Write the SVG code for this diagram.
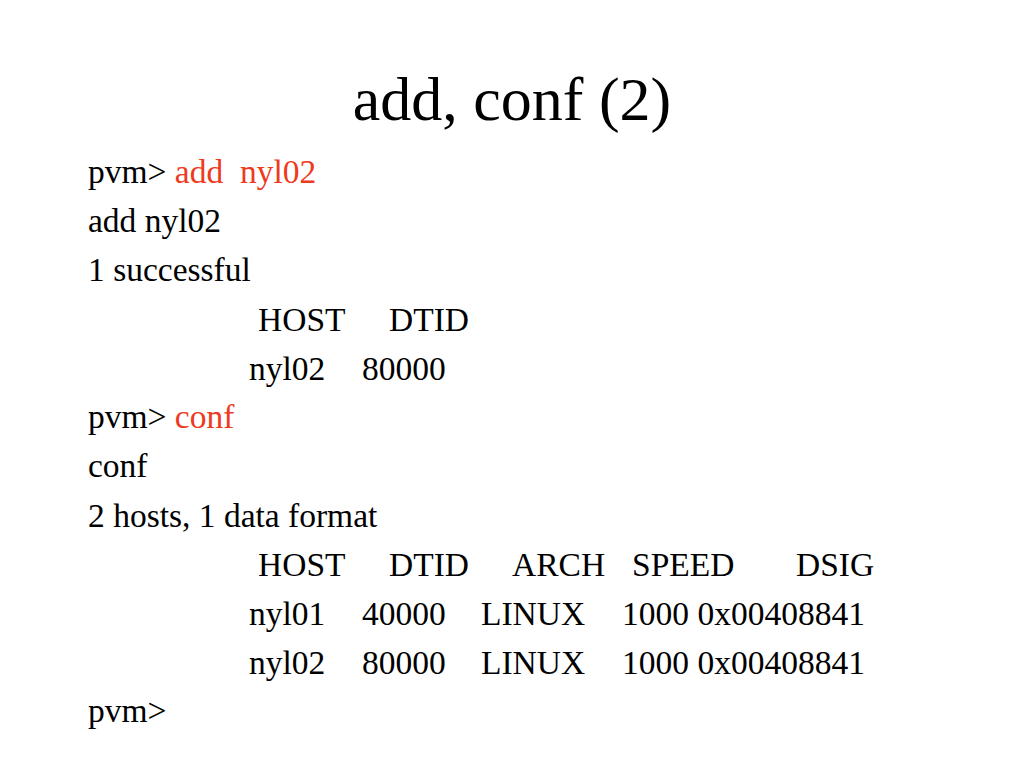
<svg xmlns="http://www.w3.org/2000/svg" width="1024" height="768" viewBox="0 0 1024 768">
<style>
text{font-family:"Liberation Serif","Times New Roman",serif;fill:#000}
.b{font-size:33.5px}
.r{fill:#EE3A1E}
.t{font-size:62px}
</style>
<rect width="1024" height="768" fill="#fff"/>
<text class="t" x="512" y="120" text-anchor="middle">add, conf (2)</text>
<g class="b">
<text x="88" y="183">pvm&gt; <tspan class="r">add</tspan></text>
<text class="r" x="240" y="183">nyl02</text>
<text x="88" y="232">add nyl02</text>
<text x="88" y="281">1 successful</text>
<text x="258" y="331">HOST</text><text x="389" y="331">DTID</text>
<text x="249" y="380">nyl02</text><text x="362" y="380">80000</text>
<text x="88" y="428">pvm&gt; <tspan class="r">conf</tspan></text>
<text x="88" y="477">conf</text>
<text x="88" y="527">2 hosts, 1 data format</text>
<text x="258" y="576">HOST</text><text x="389" y="576">DTID</text><text x="512" y="576">ARCH</text><text x="632" y="576">SPEED</text><text x="796" y="576">DSIG</text>
<text x="249" y="625">nyl01</text><text x="362" y="625">40000</text><text x="481" y="625">LINUX</text><text x="622" y="625">1000 0x00408841</text>
<text x="249" y="674">nyl02</text><text x="362" y="674">80000</text><text x="481" y="674">LINUX</text><text x="622" y="674">1000 0x00408841</text>
<text x="88" y="722">pvm&gt;</text>
</g>
</svg>
